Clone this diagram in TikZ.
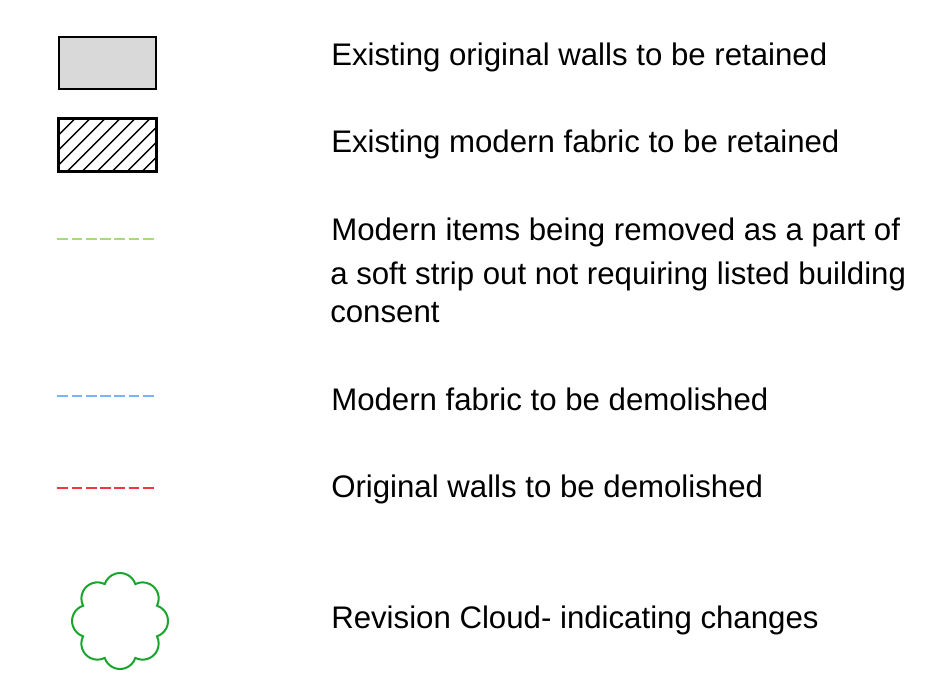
\documentclass[tikz,border=0pt]{standalone}
\usepackage{fontspec}
\setmainfont{Liberation Sans}
\definecolor{wallgray}{RGB}{217,217,217}
\definecolor{lgreen}{RGB}{165,218,125}
\definecolor{lblue}{RGB}{120,180,250}
\definecolor{lred}{RGB}{240,55,65}
\definecolor{cloudgreen}{RGB}{25,165,45}
\tikzset{
  legbox/.style={draw=black, line width=1.5pt, inner sep=0pt, anchor=north west,
    minimum width=72.5pt, minimum height=39pt},
  legline/.style={line width=1.4pt, dash pattern=on 8pt off 2.7pt},
  legtext/.style={anchor=base west, inner sep=0pt, font=\fontsize{23.4pt}{32pt}\selectfont, align=left},
  hatchline/.style={line width=1.1pt},
  cloudline/.style={draw=cloudgreen, line width=1.5pt}
}
\begin{document}
\begin{tikzpicture}[x=0.75pt, y=-0.75pt]
\useasboundingbox (0,0) rectangle (925,674);
% symbols
\node[legbox, fill=wallgray] (s1) at (58.3,35.7) {};
\node[legbox] (s2) at (58.3,118) {};
\begin{scope}
  \clip (s2.north west) rectangle (s2.south east);
  \foreach \k in {-4,...,9} {
    \draw[hatchline] (61.7+15*\k,117) -- ++(-70,70);
  }
\end{scope}
\draw[line width=1.5pt] (s2.north west) rectangle (s2.south east);
\coordinate (g1) at (57.3,239); \coordinate (g2) at (154.5,239);
\coordinate (b1) at (57.3,396); \coordinate (b2) at (154.5,396);
\coordinate (r1) at (57.3,488); \coordinate (r2) at (154.5,488);
\draw[legline, lgreen] (g1) -- (g2);
\draw[legline, lblue] (b1) -- (b2);
\draw[legline, lred] (r1) -- (r2);
\begin{scope}[shift={(120,621)}, y=0.75pt]
  \coordinate (cl) at (0,0);
  \draw[cloudline] (-22.5:40) \foreach \p in {0,45,...,315} { arc[start angle=\p-71.8, end angle=\p+71.8, radius=12.075pt] } -- cycle;
\end{scope}
% texts
\node[legtext] (t1) at (331,65) {Existing original walls to be retained};
\node[legtext] (t2) at (331,152.5) {Existing modern fabric to be retained};
\node[legtext] (t3a) at (331,240) {Modern items being removed as a part of};
\node[legtext] (t3b) at (330,284) {a soft strip out not requiring listed building};
\node[legtext] (t3c) at (330,322) {consent};
\node[legtext] (t4) at (331,410) {Modern fabric to be demolished};
\node[legtext] (t5) at (331,497.5) {Original walls to be demolished};
\node[legtext] (t6) at (331,628) {Revision Cloud- indicating changes};
\end{tikzpicture}
\end{document}
